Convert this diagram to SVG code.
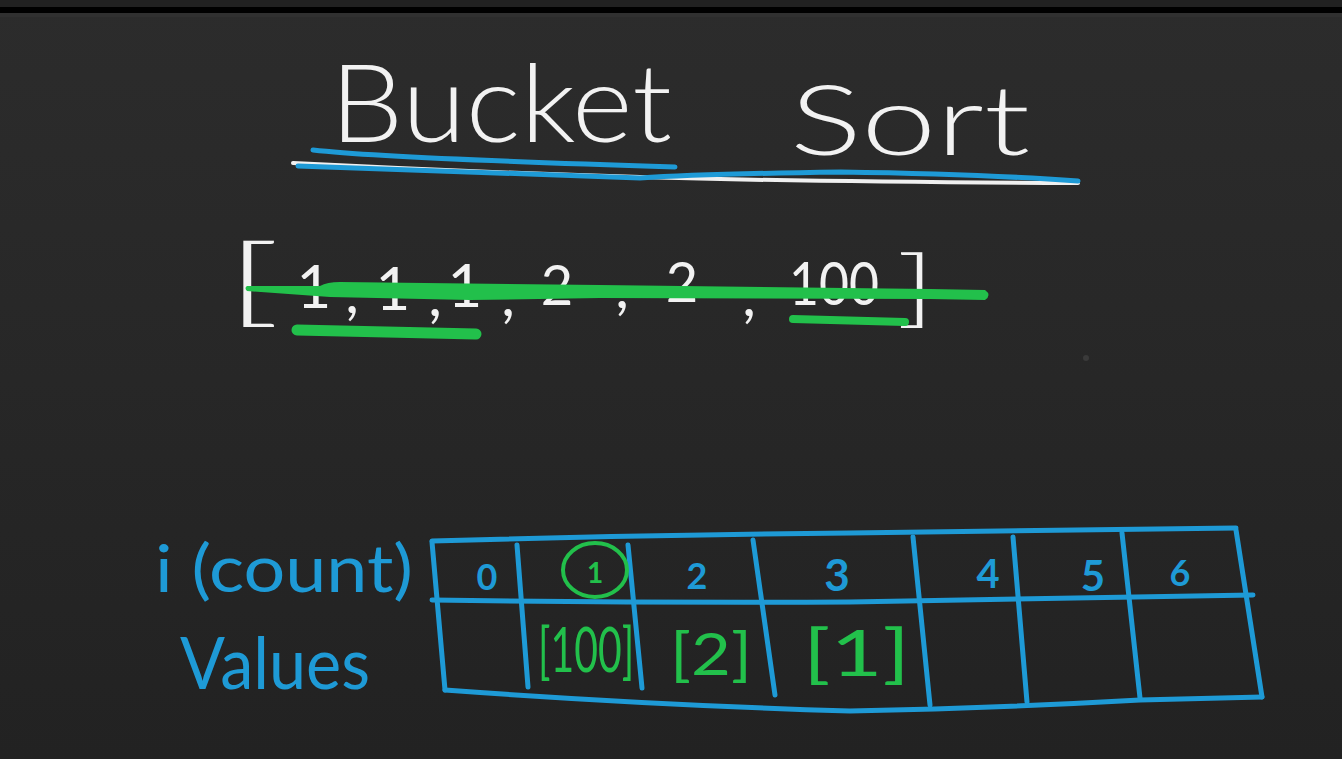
<svg xmlns="http://www.w3.org/2000/svg" width="1342" height="759" viewBox="0 0 1342 759">
<defs>
<linearGradient id="bg" x1="0" y1="0" x2="0" y2="1">
<stop offset="0" stop-color="#2c2c2c"/>
<stop offset="1" stop-color="#222222"/>
</linearGradient>
<style>
.t{font-family:Lato,"Liberation Sans","DejaVu Sans",sans-serif;font-weight:400}
.lt{font-weight:300}
.bd{font-weight:700}
.w{fill:#f2f2f2}
.b{fill:#1e9ad6}
.g{fill:#22c04b}
.bl{stroke:#1e9ad6;stroke-width:5;fill:none;stroke-linecap:round;stroke-linejoin:round}
.gl{stroke:#22c04b;fill:none;stroke-linecap:round}
.wl{stroke:#f0f0f0;fill:none;stroke-linecap:round}
</style>
</defs>
<rect x="0" y="0" width="1342" height="759" fill="url(#bg)"/>
<rect x="0" y="0" width="1342" height="7" fill="#212121"/>
<rect x="0" y="7" width="1342" height="6" fill="#000000"/>
<rect x="0" y="13" width="1342" height="4" fill="#303030"/>
<circle cx="1086" cy="358" r="3" fill="#3a3a3a"/>

<g id="title">
<text class="t lt w" x="330" y="142" font-size="108" textLength="342" lengthAdjust="spacingAndGlyphs">Bucket</text>
<text class="t lt w" x="790" y="155" font-size="96" textLength="240" lengthAdjust="spacingAndGlyphs">Sort</text>
<path class="wl" stroke-width="4" d="M293,163 Q470,172 640,177 T1078,183"/>
<path class="bl" stroke-width="6" d="M313,150 Q382,158 675,167"/>
<path class="bl" stroke-width="6" d="M298,166 Q480,172 640,178 Q700,174 841,172 Q980,174 1078,181"/>
</g>

<g id="array">
<text class="t lt w" font-size="96" transform="translate(224,314) scale(2.0,1)">[</text>
<text class="t w" font-size="60" x="314" y="308" text-anchor="middle">1</text>
<text class="t w" font-size="60" x="352" y="313" text-anchor="middle">,</text>
<text class="t w" font-size="60" x="393" y="310" text-anchor="middle">1</text>
<text class="t w" font-size="60" x="435" y="316" text-anchor="middle">,</text>
<text class="t w" font-size="60" x="465" y="307" text-anchor="middle">1</text>
<text class="t w" font-size="60" x="508" y="316" text-anchor="middle">,</text>
<text class="t w" font-size="56" x="557" y="305" text-anchor="middle">2</text>
<text class="t w" font-size="60" x="622" y="308" text-anchor="middle">,</text>
<text class="t w" font-size="56" x="682" y="302" text-anchor="middle">2</text>
<text class="t w" font-size="60" x="749" y="316" text-anchor="middle">,</text>
<text class="t w" font-size="60" x="789" y="305" textLength="90" lengthAdjust="spacingAndGlyphs">100</text>
<text class="t lt w" font-size="84" transform="translate(936,317) scale(1.6,1)" text-anchor="end">]</text>
<path class="g" d="M247,286 L320,286 Q327,282 340,282 L600,285 L930,289 L985,290 Q992,295 985,300 L930,299 L600,298 L470,300 L330,297 L247,291 Q244,288 247,286 Z"/>
<path class="gl" stroke-width="11" d="M297,330 L476,334"/>
<path class="gl" stroke-width="8" d="M793,319 L905,322"/>
</g>

<g id="labels">
<text class="t b" x="155" y="592" font-size="66" textLength="258" lengthAdjust="spacingAndGlyphs">i (count)</text>
<text class="t b" x="180" y="689" font-size="72" textLength="190" lengthAdjust="spacingAndGlyphs">Values</text>
</g>

<g id="connectors">
<path class="bl" d="M432,541 Q640,535 850,533 T1236,528"/>
<path class="bl" d="M432,542 L445,690"/>
<path class="bl" d="M445,690 Q650,705 850,711 Q1000,708 1140,700 L1262,697"/>
<path class="bl" d="M1236,530 L1262,697"/>
<path class="bl" d="M432,600 Q640,603 850,602 L1253,595"/>
<path class="bl" d="M517,545 L528,687"/>
<path class="bl" d="M628,545 L642,688"/>
<path class="bl" d="M753,540 L775,695"/>
<path class="bl" d="M913,537 L930,705"/>
<path class="bl" d="M1013,537 L1027,702"/>
<path class="bl" d="M1122,533 L1140,698"/>
</g>

<g id="cell-0"><text class="t bd b" x="487" y="590" font-size="36" text-anchor="middle">0</text></g>
<g id="cell-1">
<ellipse class="gl" stroke-width="4" cx="595" cy="570" rx="32" ry="27"/>
<text class="t bd g" x="595" y="583" font-size="28" text-anchor="middle">1</text>
</g>
<g id="cell-2"><text class="t bd b" x="697" y="589" font-size="36" text-anchor="middle">2</text></g>
<g id="cell-3"><text class="t bd b" x="837" y="591" font-size="44" text-anchor="middle">3</text></g>
<g id="cell-4"><text class="t bd b" x="988" y="588" font-size="40" text-anchor="middle">4</text></g>
<g id="cell-5"><text class="t bd b" x="1093" y="591" font-size="42" text-anchor="middle">5</text></g>
<g id="cell-6"><text class="t bd b" x="1180" y="586" font-size="36" text-anchor="middle">6</text></g>

<g id="value-1"><text class="t g" font-size="62" transform="translate(538,672) scale(0.66,1)">[100]</text></g>
<g id="value-2"><text class="t g" x="670" y="675" font-size="58" textLength="82" lengthAdjust="spacingAndGlyphs">[2]</text></g>
<g id="value-3"><text class="t g" x="803" y="676" font-size="64" textLength="107" lengthAdjust="spacingAndGlyphs">[1]</text></g>
</svg>
